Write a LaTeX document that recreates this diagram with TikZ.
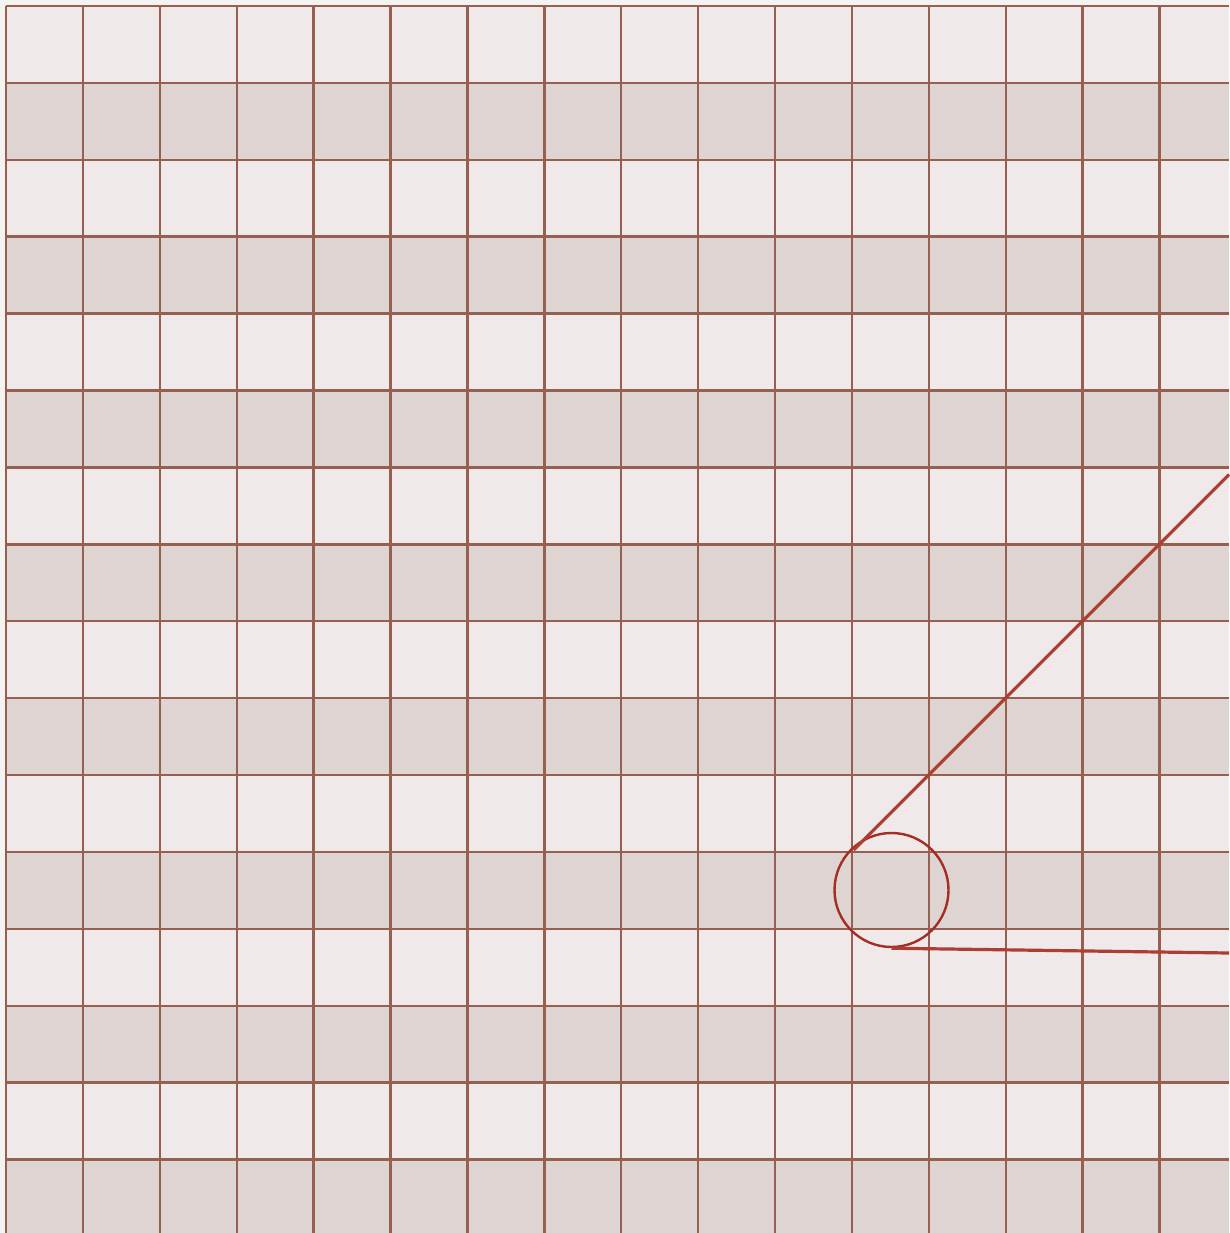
\documentclass[tikz,border=0pt]{standalone}
\definecolor{cellLight}{RGB}{239,233,233}
\definecolor{cellDark}{RGB}{222,212,210}
\definecolor{gridLine}{RGB}{150,95,80}
\definecolor{circRed}{RGB}{165,45,35}
\definecolor{lineRed}{RGB}{172,62,50}
\begin{document}
\begin{tikzpicture}[x=1pt,y=-1pt,
  gridstyle/.style={draw=gridLine,line width=2.4pt},
  circstyle/.style={draw=circRed,line width=2.4pt},
  rayline/.style={draw=lineRed,line width=3.2pt}]
\useasboundingbox (0,0) rectangle (1229,1233);
\fill[cellLight!60!white] (0,0) rectangle (1229,1233);
\fill[cellLight] (6,6) rectangle (1229,1233);
\foreach \i in {1,3,...,15}{
  \fill[cellDark] (6,{6+76.9*\i}) rectangle (1229,{6+76.9*(\i+1)});
}
\foreach \k in {0,...,15}{
  \draw[gridstyle] ({6+76.9*\k},6) -- ({6+76.9*\k},1233);
  \draw[gridstyle] (6,{6+76.9*\k}) -- (1229,{6+76.9*\k});
}
\coordinate (c) at (891.5,890);
\node[circle,circstyle,minimum size=114pt,inner sep=0pt] (circ) at (c) {};
\coordinate (p1) at (853.5,850);
\coordinate (e1) at (1229,474.5);
\coordinate (e2) at (1229,953);
\draw[rayline] (p1) -- (e1);
\draw[rayline] (circ.south) -- (e2);
\end{tikzpicture}
\end{document}
